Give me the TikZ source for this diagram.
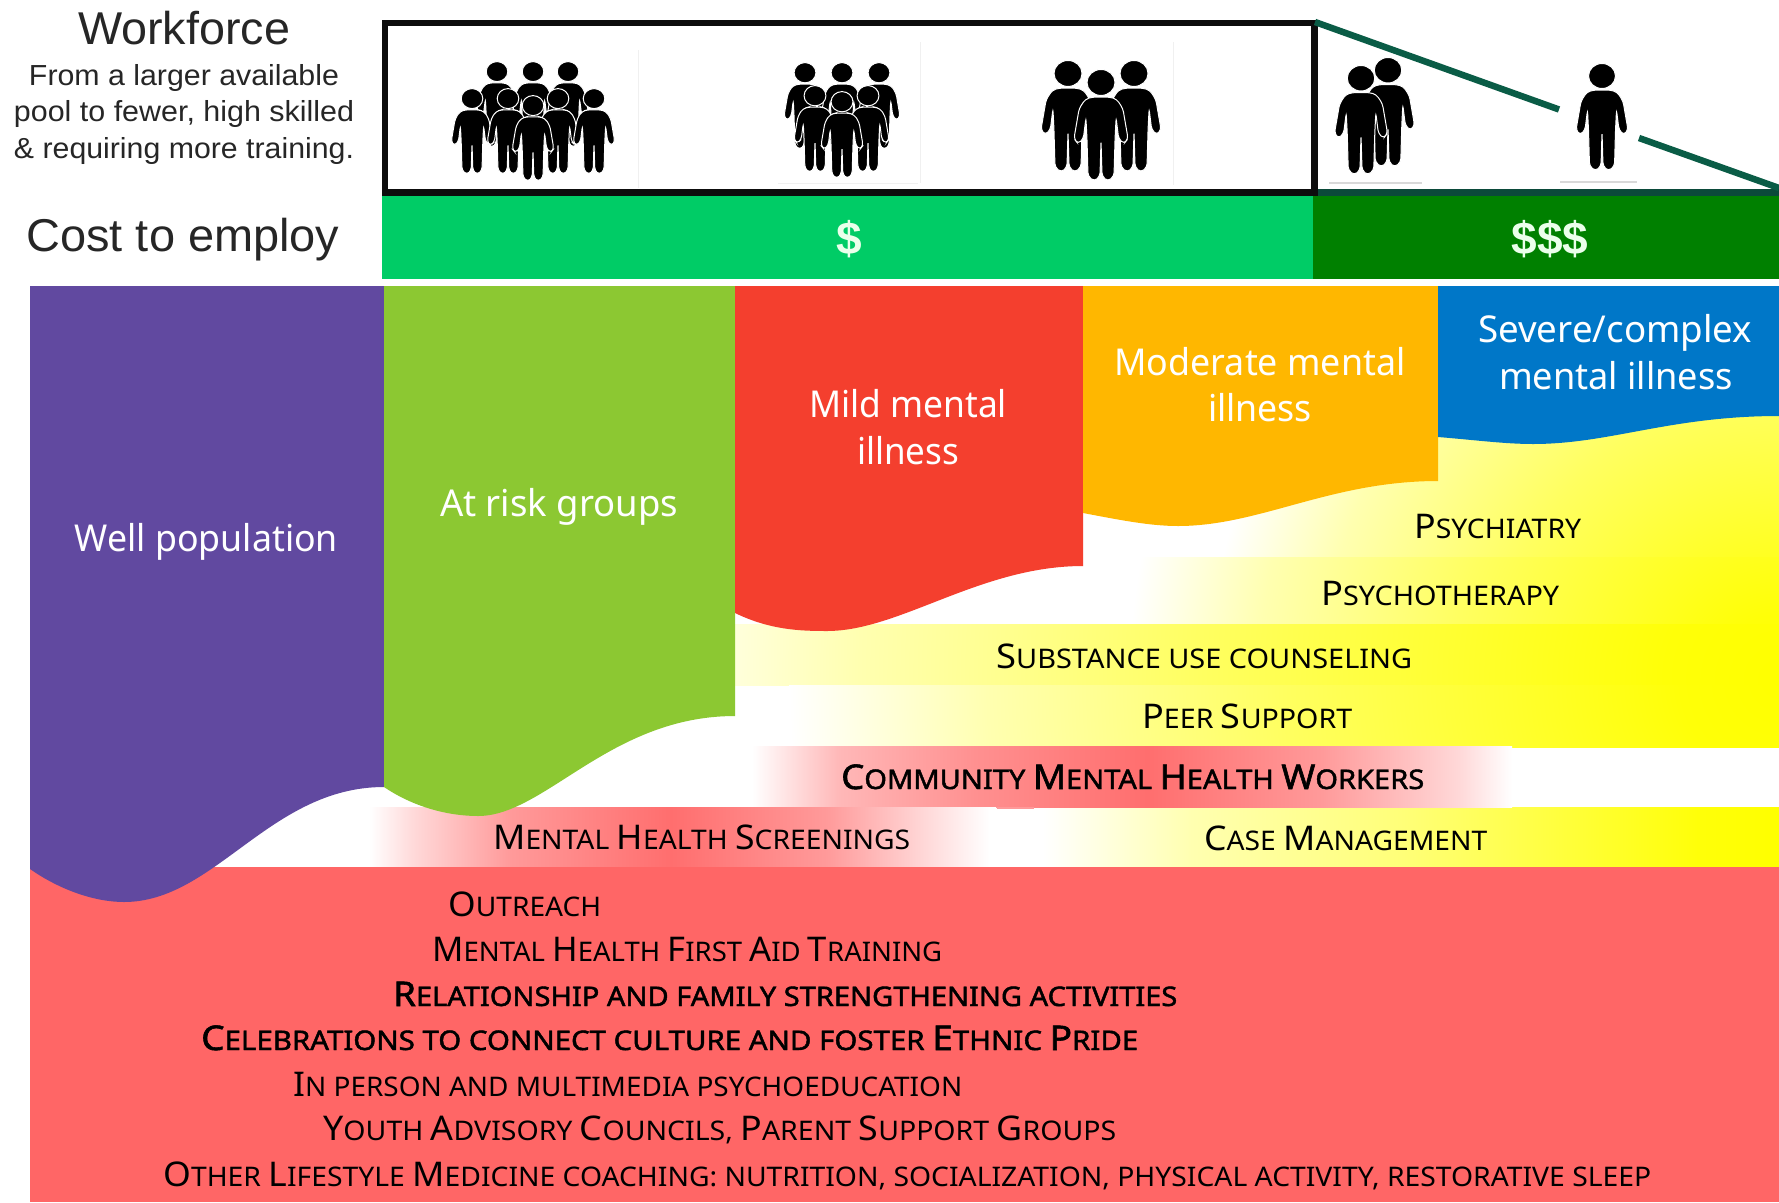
\documentclass[tikz,border=0pt]{standalone}
\usepackage{fontspec}
\usepackage{graphicx}
\setmainfont{Noto Sans}
\newfontfamily\arialf{Liberation Sans}
\newfontfamily\fakeb[FakeBold=1.6]{Noto Sans}
\definecolor{cPurple}{HTML}{6149A0}
\definecolor{cGreen}{HTML}{8CC832}
\definecolor{cRed}{HTML}{F43F2E}
\definecolor{cOrange}{HTML}{FFB700}
\definecolor{cBlue}{HTML}{0077C8}
\definecolor{cSalmon}{HTML}{FF6666}
\definecolor{cBar}{HTML}{00CC66}
\definecolor{cBarDark}{HTML}{008000}
\definecolor{cLine}{HTML}{0A5C46}
\definecolor{cLineB}{HTML}{0B4A3A}
\definecolor{yA}{HTML}{FFFF08}
\definecolor{yB}{HTML}{FFFF60}
\definecolor{yC}{HTML}{FFFFB0}
\definecolor{yD}{HTML}{FFFF78}
\definecolor{rA}{HTML}{FF6E6E}
\definecolor{rB}{HTML}{FF9090}
\definecolor{rC}{HTML}{FFB8B8}
\definecolor{rD}{HTML}{FF9A9A}
\definecolor{rE}{HTML}{FFD8D8}
\pgfdeclareradialshading{yrad}{\pgfpoint{0bp}{0bp}}{color(0bp)=(yellow); color(2.5bp)=(yA); color(12.5bp)=(yB); color(20bp)=(yC); color(25bp)=(white); color(50bp)=(white)}
\pgfdeclarehorizontalshading{ycase}{100bp}{color(0bp)=(white); color(28bp)=(white); color(37.5bp)=(yC); color(51bp)=(yD); color(70bp)=(yA); color(75bp)=(yellow); color(100bp)=(yellow)}
\pgfdeclarehorizontalshading{rbandA}{100bp}{color(0bp)=(white); color(25bp)=(white); color(30.7bp)=(rC); color(39.7bp)=(rB); color(51bp)=(rA); color(62.5bp)=(rD); color(71.5bp)=(rE); color(75bp)=(white); color(100bp)=(white)}
\pgfdeclarehorizontalshading{rbandB}{100bp}{color(0bp)=(white); color(26.8bp)=(white); color(30.3bp)=(rE); color(37.6bp)=(rD); color(50bp)=(rA); color(62bp)=(rD); color(69.5bp)=(rE); color(74.5bp)=(white); color(100bp)=(white)}
\newcommand\fitw[2]{\resizebox{#1pt}{\height}{#2}}
\newcommand\fitt[2]{\resizebox{\dimexpr#1pt+2pt\relax}{\height}{#2}}
\newcommand\Bg[1]{{\fontsize{34}{34}\selectfont #1}}
% person: top-centre x, top y, scale
\newcommand\Person[3]{%
\begin{scope}[shift={(#1,#2)},scale=#3]
\filldraw[draw=white,line width=1pt,fill=black] (0,12) ellipse (13.5 and 12.5);
\filldraw[draw=white,line width=1pt,fill=black,rounded corners=3.5]
 (-8,26) -- (8,26) -- (15,28) -- (21,37) -- (26,66) -- (22,71) -- (17,66) -- (14.5,46)
 -- (13.5,66) -- (12.5,102) -- (6.5,107) -- (1,102) -- (0,68) -- (-1,102) -- (-6.5,107)
 -- (-12.5,102) -- (-13.5,66) -- (-14.5,46) -- (-17,66) -- (-22,71) -- (-26,66) -- (-21,37)
 -- (-15,28) -- cycle;
\end{scope}}
\tikzset{
 lab/.style={anchor=base west,inner sep=0pt,text=black,xshift=-2pt,font=\fontsize{27}{27}\selectfont},
 blab/.style={lab,font=\fakeb\fontsize{27}{27}\selectfont},
 big/.style={anchor=base,inner sep=0pt,text=white,font=\fontsize{37}{37}\selectfont},
 hd/.style={anchor=base,inner sep=0pt,text=black!85,font=\arialf\fontsize{46}{46}\selectfont},
 sub/.style={anchor=base,inner sep=0pt,text=black!85,font=\arialf\fontsize{29}{29}\selectfont},
 dollar/.style={anchor=base,inner sep=0pt,text=white!92!green,font=\arialf\bfseries\fontsize{46}{46}\selectfont},
 faint/.style={line width=1pt,draw=black!6},
 grayl/.style={line width=1.2pt,draw=black!15}
}
\begin{document}
\begin{tikzpicture}[x=1pt,y=-1pt]
\useasboundingbox (0,0) rectangle (1779,1202);
\fill[white] (0,0) rectangle (1779,1202);

% faint image edges
\draw[faint] (638,50) -- (638,188);
\draw[faint] (920,42) -- (920,183);
\draw[faint] (1173,42) -- (1173,185);
\draw[faint] (778,183) -- (918,183);
\draw[grayl] (1329,183) -- (1422,183);
\draw[grayl] (1560,182) -- (1637,182);

% people
\Person{497}{62}{0.8}\Person{533}{62}{0.8}\Person{568}{62}{0.8}
\Person{472}{89}{0.8}\Person{508}{89}{0.8}\Person{558}{89}{0.8}\Person{594}{89}{0.8}
\Person{533}{96}{0.8}
\Person{805}{63}{0.81}\Person{842}{63}{0.81}\Person{879}{63}{0.81}
\Person{815}{86}{0.81}\Person{868}{86}{0.81}
\Person{842}{92}{0.81}
\Person{1068}{61}{1.04}\Person{1134}{61}{1.04}
\Person{1101}{70}{1.04}
\Person{1388}{58}{1.02}
\Person{1361}{66}{1.02}
\Person{1602}{64}{1.0}

% workforce box and triangle
\draw[line width=6.5pt,draw=black!95] (385,23) rectangle (1314.5,192.5);
\draw[line width=7pt,draw=cLineB] (1318,192.5) -- (1779,192.5);
\draw[line width=6.5pt,draw=cLine] (1315,22) -- (1559,109.5);
\draw[line width=6.5pt,draw=cLine] (1639,138) -- (1779,188);

% cost bars
\fill[cBar] (382,196) rectangle (1313,279);
\fill[cBarDark] (1313,196) rectangle (1779,279);
\node[dollar] (d1) at (849,254) {\$};
\node[dollar] (d3) at (1550,254) {\$\$\$};

% left header text
\node[hd] (wf) at (184,44) {\fitw{212}{Workforce}};
\node[sub] (s1) at (184,85) {\fitw{310}{From a larger available}};
\node[sub] (s2) at (184,121) {\fitw{340}{pool to fewer, high skilled}};
\node[sub] (s3) at (184,158) {\fitw{340}{\& requiring more training.}};
\node[hd] (cost) at (183,251) {\fitw{313}{Cost to employ}};

% yellow bands
\begin{scope}\clip (1083,400) rectangle (1779,557);
\shade[shading=yrad] (1779,680) circle (570);\end{scope}
\begin{scope}\clip (1083,557) rectangle (1779,624);
\shade[shading=yrad] (1779,680) circle (650);\end{scope}
\begin{scope}\clip (735,624) rectangle (1779,685);
\shade[shading=yrad] (1779,680) circle (1150);\end{scope}
\begin{scope}\clip (735,685) rectangle (1779,747);
\shade[shading=yrad] (1779,680) circle (990);\end{scope}
\shade[shading=ycase] (996,807) rectangle (1779,867);

% red bands
\shade[shading=rbandA] (752,746) rectangle (1512,807);
\shade[shading=rbandB] (346,807) rectangle (996,868);
\fill[rD] (997,807) rectangle (1034,809);
\fill[cSalmon] (30,867) rectangle (1779,1202);

% population columns
\fill[cPurple] (30,286) -- (384,286) -- (384,787)
 .. controls (270,787) and (215,902) .. (124,902)
 .. controls (95,902) and (60,890) .. (30,869) -- cycle;
\fill[cGreen] (384,286) -- (735,286) -- (735,716)
 .. controls (610,716) and (545,816) .. (478,816)
 .. controls (450,816) and (415,808) .. (384,787) -- cycle;
\fill[cRed] (735,286) -- (1083,286) -- (1083,566)
 .. controls (980,566) and (900,631) .. (827,631)
 .. controls (800,631) and (770,630) .. (735,613) -- cycle;
\fill[cOrange] (1083,286) -- (1438,286) -- (1438,481)
 .. controls (1330,481) and (1260,526) .. (1178,526)
 .. controls (1150,526) and (1120,520) .. (1083,513) -- cycle;
\fill[cBlue] (1438,286) -- (1779,286) -- (1779,416)
 .. controls (1670,416) and (1610,444) .. (1533,444)
 .. controls (1505,444) and (1475,440) .. (1438,437) -- cycle;

% column labels
\node[big] (well) at (206.5,551) {\fitw{263}{Well population}};
\node[big] (risk) at (559,516) {\fitw{238}{At risk groups}};
\node[big] (mild1) at (908,417) {\fitw{198}{Mild mental}};
\node[big] (mild2) at (908,464) {\fitw{102}{illness}};
\node[big] (mod1) at (1260,375) {\fitw{291}{Moderate mental}};
\node[big] (mod2) at (1260,421) {\fitw{104}{illness}};
\node[big] (sev1) at (1615,342) {\fitw{274}{Severe/complex}};
\node[big] (sev2) at (1616,389) {\fitw{234}{mental illness}};

% service labels
\node[lab] (t1) at (1416,538) {\fitt{165}{\Bg{P}SYCHIATRY}};
\node[lab] (t2) at (1323,605) {\fitt{236}{\Bg{P}SYCHOTHERAPY}};
\node[lab] (t3) at (998,668) {\fitt{414}{\Bg{S}UBSTANCE USE COUNSELING}};
\node[lab] (t4) at (1144,728) {\fitt{208}{\Bg{P}EER \Bg{S}UPPORT}};
\node[blab] (t5) at (843,789) {\fitt{581}{\Bg{C}OMMUNITY \Bg{M}ENTAL \Bg{H}EALTH \Bg{W}ORKERS}};
\node[lab] (t6) at (1206,850) {\fitt{281}{\Bg{C}ASE \Bg{M}ANAGEMENT}};
\node[lab] (t7) at (495,849) {\fitt{415}{\Bg{M}ENTAL \Bg{H}EALTH \Bg{S}CREENINGS}};
\node[lab] (t8) at (450,916) {\fitt{151}{\Bg{O}UTREACH}};
\node[lab] (t9) at (434,961) {\fitt{508}{\Bg{M}ENTAL \Bg{H}EALTH \Bg{F}IRST \Bg{A}ID \Bg{T}RAINING}};
\node[blab] (t10) at (395,1006) {\fitt{782}{\Bg{R}ELATIONSHIP AND FAMILY STRENGTHENING ACTIVITIES}};
\node[blab] (t11) at (203,1050) {\fitt{935}{\Bg{C}ELEBRATIONS TO CONNECT CULTURE AND FOSTER \Bg{E}THNIC \Bg{P}RIDE}};
\node[lab] (t12) at (295,1096) {\fitt{667}{\Bg{I}N PERSON AND MULTIMEDIA PSYCHOEDUCATION}};
\node[lab] (t13) at (325,1140) {\fitt{791}{\Bg{Y}OUTH \Bg{A}DVISORY \Bg{C}OUNCILS, \Bg{P}ARENT \Bg{S}UPPORT \Bg{G}ROUPS}};
\node[lab] (t14) at (165,1186) {\fitt{1486}{\Bg{O}THER \Bg{L}IFESTYLE \Bg{M}EDICINE COACHING: NUTRITION, SOCIALIZATION, PHYSICAL ACTIVITY, RESTORATIVE SLEEP}};
\end{tikzpicture}
\end{document}
